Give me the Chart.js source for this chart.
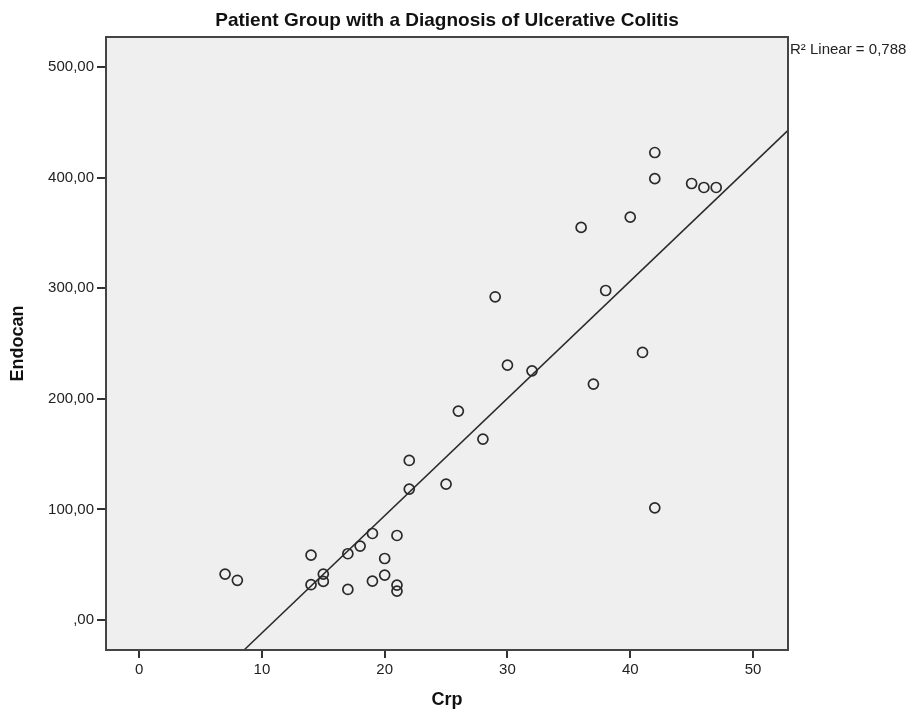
<!DOCTYPE html>
<html>
<head>
<meta charset="utf-8">
<script src="https://cdn.jsdelivr.net/npm/chart.js@4/dist/chart.umd.min.js"></script>
<style>
  html, body { margin: 0; padding: 0; background: #fff; }
  #wrap { width: 917px; height: 717px; }
</style>
</head>
<body>
<div id="wrap"><canvas id="scatter" width="917" height="717"></canvas></div>
<script>
// values
const crp = [7, 8, 14, 14, 15, 15, 17, 17, 18, 19, 19, 20, 20, 21, 21, 21, 22, 22, 25,
  26, 28, 29, 30, 32, 36, 37, 38, 40, 41, 42, 42, 42, 45, 46, 47];
const endocan = [41.6, 36, 58.7, 32, 41.6, 35, 60, 27.7, 66.9, 78.3, 35.2, 55.7, 40.7, 76.5, 31.6, 26.2, 144.3, 118.4, 122.9,
  188.9, 163.6, 292.2, 230.4, 225.3, 354.9, 213.3, 297.9, 364.2, 241.9, 422.6, 399, 101.5, 394.6, 391, 391];

const xTicks = [0, 10, 20, 30, 40, 50];
const yTicks = [0, 100, 200, 300, 400, 500];

// fit line (R2 linear = 0,788)
const fitSlope = 10.6;
const fitIntercept = -117.6;

const chartTitle = 'Patient Group with a Diagnosis of Ulcerative Colitis';
const fitLabel = 'R\u00b2 Linear = 0,788';

const X_MIN = -2.7, X_MAX = 52.85;
const Y_MIN = -27, Y_MAX = 527;

const FONT = '"Liberation Sans", Arial, sans-serif';
Chart.defaults.font.family = FONT;
Chart.defaults.color = '#222';

const points = crp.map((c, i) => ({ x: c, y: endocan[i] }));
const fitLine = [X_MIN, X_MAX].map(x => ({ x: x, y: fitSlope * x + fitIntercept }));

// grey plot panel, frame, title and R2 label
const spssFrame = {
  id: 'spssFrame',
  beforeDraw(chart) {
    const { ctx, chartArea: a } = chart;
    ctx.save();
    ctx.fillStyle = '#efefef';
    ctx.fillRect(a.left, a.top, a.right - a.left, a.bottom - a.top);
    ctx.restore();
  },
  afterDraw(chart) {
    const { ctx, chartArea: a } = chart;
    ctx.save();
    ctx.strokeStyle = '#444';
    ctx.lineWidth = 2;
    ctx.strokeRect(a.left, a.top, a.right - a.left, a.bottom - a.top);

    ctx.fillStyle = '#111';
    ctx.font = 'bold 19px ' + FONT;
    ctx.textAlign = 'center';
    ctx.textBaseline = 'middle';
    ctx.fillText(chartTitle, (a.left + a.right) / 2, 21);

    ctx.fillStyle = '#222';
    ctx.font = '15px ' + FONT;
    ctx.textAlign = 'left';
    ctx.fillText(fitLabel, a.right + 2, 50);
    ctx.restore();
  }
};

const fmtY = v => (v === 0 ? ',00' : v.toFixed(2).replace('.', ','));

new Chart(document.getElementById('scatter'), {
  type: 'scatter',
  data: {
    datasets: [
      {
        label: 'Endocan',
        data: points,
        pointStyle: 'circle',
        pointRadius: 5,
        pointHoverRadius: 5,
        borderWidth: 1.7,
        borderColor: '#2a2a2a',
        backgroundColor: 'rgba(0,0,0,0)',
      },
      {
        label: 'Fit',
        data: fitLine,
        showLine: true,
        pointRadius: 0,
        borderWidth: 1.5,
        borderColor: '#2a2a2a',
      },
    ],
  },
  options: {
    responsive: false,
    animation: false,
    layout: { padding: { top: 37, right: 129, left: 0, bottom: 0 } },
    plugins: {
      legend: { display: false },
      tooltip: { enabled: false },
      title: { display: false },
    },
    scales: {
      x: {
        type: 'linear',
        position: 'bottom',
        min: X_MIN,
        max: X_MAX,
        afterBuildTicks: s => { s.ticks = xTicks.map(v => ({ value: v })); },
        afterFit: s => { s.height = 67; },
        ticks: { font: { size: 15 }, color: '#222', padding: 3, maxRotation: 0 },
        grid: { drawOnChartArea: false, drawTicks: true, tickLength: 8, color: '#333', lineWidth: 2 },
        border: { display: true, color: '#444', width: 2 },
        title: { display: true, text: 'Crp', font: { size: 18, weight: 'bold' }, color: '#111', padding: { top: 0, bottom: 6 } },
      },
      y: {
        type: 'linear',
        min: Y_MIN,
        max: Y_MAX,
        afterBuildTicks: s => { s.ticks = yTicks.map(v => ({ value: v })); },
        afterFit: s => { s.width = 106; },
        ticks: { font: { size: 15 }, color: '#222', padding: 3, callback: v => fmtY(v) },
        grid: { drawOnChartArea: false, drawTicks: true, tickLength: 9, color: '#333', lineWidth: 2 },
        border: { display: true, color: '#444', width: 2 },
        title: { display: true, text: 'Endocan', font: { size: 18, weight: 'bold' }, color: '#111', padding: { top: 7, bottom: 0 } },
      },
    },
  },
  plugins: [spssFrame],
});
</script>
</body>
</html>
